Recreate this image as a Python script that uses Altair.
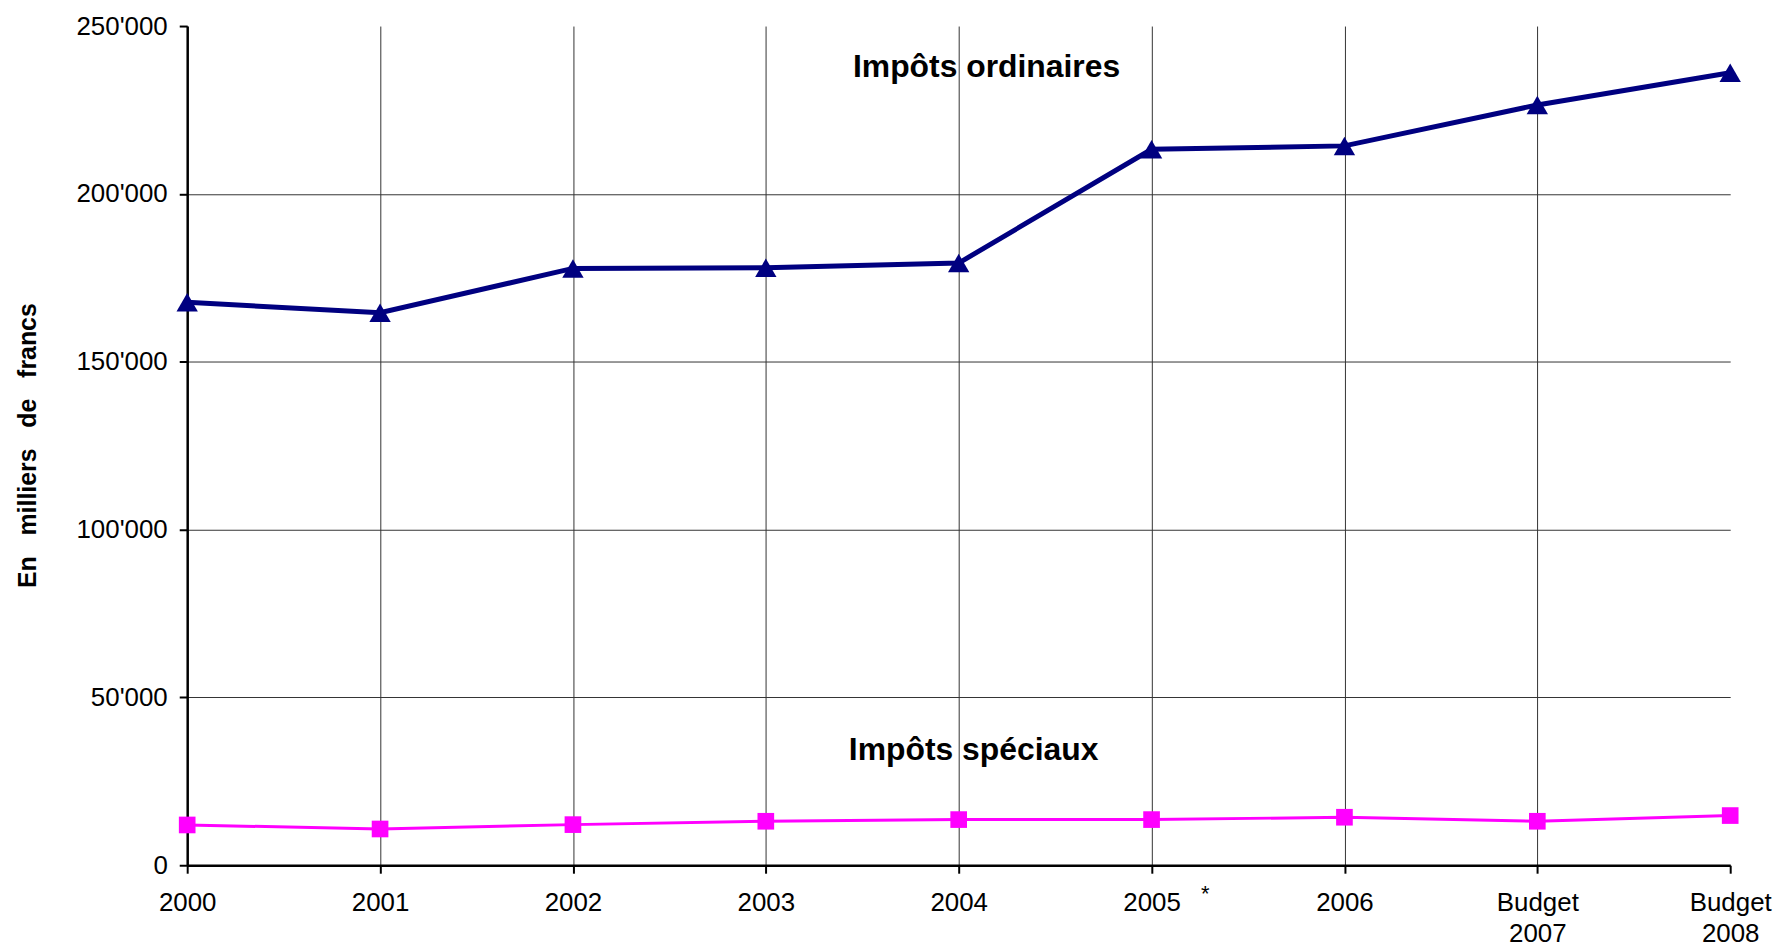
import altair as alt
import pandas as pd

categories = ["2000", "2001", "2002", "2003", "2004", "2005", "2006", "Budget 2007", "Budget 2008"]
ordinaires = [167700, 164600, 177800, 178000, 179400, 213300, 214300, 226500, 236100]
speciaux = [12000, 10800, 12100, 13100, 13600, 13600, 14300, 13100, 14800]

y_ticks = [0, 50000, 100000, 150000, 200000, 250000]

series_labels = ["Impôts ordinaires", "Impôts spéciaux"]
label_anchor_cat = ["2004", "2004"]
label_anchor_val = [237800, 34200]
label_dx = [28, 15]

FONT = "Liberation Sans"

df_o = pd.DataFrame({"annee": categories, "valeur": ordinaires})
df_s = pd.DataFrame({"annee": categories, "valeur": speciaux})
df_lab = pd.DataFrame({"annee": label_anchor_cat, "valeur": label_anchor_val,
                       "texte": series_labels, "dx": label_dx})

x_enc = alt.X(
    "annee:N",
    sort=categories,
    scale=alt.Scale(type="point", padding=0, domain=categories),
    axis=alt.Axis(
        title=None,
        labelAngle=0,
        labelExpr="split(datum.label, ' ')",
        labelPadding=16,
        labelLineHeight=32,
        labelBaseline="top",
        tickSize=8,
        grid=True,
        gridOpacity={"condition": {"test": "datum.value === 'Budget 2008'", "value": 0}, "value": 1},
    ),
)

y_enc = alt.Y(
    "valeur:Q",
    scale=alt.Scale(domain=[0, 250000], nice=False),
    axis=alt.Axis(
        values=y_ticks,
        labelExpr="replace(format(datum.value, ','), ',', \"'\")",
        labelPadding=12,
        tickSize=8,
        grid=True,
        gridOpacity={"condition": {"test": "datum.value === 250000", "value": 0}, "value": 1},
        title="En\u00a0\u00a0 milliers\u00a0\u00a0 de\u00a0\u00a0 francs",
        titleFontSize=25,
        titleFontWeight="bold",
        titleFont=FONT,
        titleColor="black",
        titleX=-160,
        titleY=421,
        titleAngle=270,
        titleAlign="center",
        titleBaseline="middle",
    ),
)

line_o = alt.Chart(df_o).mark_line(color="#000080", strokeWidth=5).encode(x=x_enc, y=y_enc)
pts_o = alt.Chart(df_o).mark_point(shape="triangle-up", size=460, filled=True, color="#000080", opacity=1).encode(x=x_enc, y=y_enc)
line_s = alt.Chart(df_s).mark_line(color="#FF00FF", strokeWidth=3).encode(x=x_enc, y=y_enc)
pts_s = alt.Chart(df_s).mark_point(shape="square", size=280, filled=True, color="#FF00FF", opacity=1).encode(x=x_enc, y=y_enc)

labels = alt.Chart(df_lab).mark_text(
    font=FONT, fontSize=32, fontWeight="bold", color="black", align="center", baseline="middle"
).encode(x=x_enc, y=y_enc, text="texte:N", xOffset=alt.XOffset("dx:Q", scale=None))

asterisk = alt.Chart(pd.DataFrame({"annee": ["2005"], "valeur": [0], "t": ["*"]})).mark_text(
    font=FONT, fontSize=22, color="black", align="center", baseline="alphabetic", dx=54, dy=36
).encode(x=x_enc, y=y_enc, text="t:N")

chart = alt.layer(line_o, line_s, pts_o, pts_s, labels, asterisk).properties(
    width=1550,
    height=843,
    autosize=alt.AutoSizeParams(type="none"),
    padding={"left": 180, "top": 16, "right": 44, "bottom": 79},
).configure_view(stroke=None).configure_axis(
    domainColor="black",
    domainWidth=2.5,
    tickColor="black",
    tickWidth=2,
    gridColor="#333333",
    gridWidth=1,
    labelFont=FONT,
    labelFontSize=26,
    labelColor="black",
)

chart.save("out.html", embed_options={"renderer": "svg", "actions": False})
